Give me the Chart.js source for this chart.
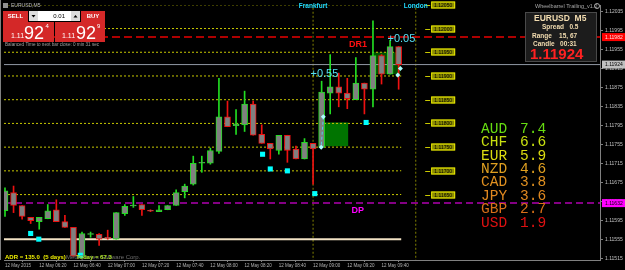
<!DOCTYPE html>
<html>
<head>
<meta charset="utf-8">
<script src="https://cdn.jsdelivr.net/npm/chart.js@4.4.0/dist/chart.umd.min.js"></script>
<style>
html, body { margin: 0; padding: 0; background: #000; }
canvas { display: block; }
</style>
</head>
<body>
<canvas id="chart" width="625" height="270"></canvas>
<script>
// EURUSD M5, 12 May 2015 06:00 .. 09:50 (one entry per candle)
const opens = [1.11616, 1.11654, 1.11627, 1.11602, 1.11593, 1.11599, 1.11618, 1.11593, 1.11581, 1.11520,
    1.11566, 1.11566, 1.11560, 1.11556, 1.11610, 1.11626, 1.11629, 1.11617, 1.11614, 1.11618,
    1.11627, 1.11656, 1.11672, 1.11716, 1.11716, 1.11741, 1.11814, 1.11795, 1.11797, 1.11841,
    1.11777, 1.11758, 1.11743, 1.11775, 1.11746, 1.11725, 1.11758, 1.11750, 1.11864, 1.11877,
    1.11864, 1.11850, 1.11885, 1.11872, 1.11943, 1.11904, 1.11962];
const highs = [1.11664, 1.11668, 1.11627, 1.11602, 1.11602, 1.11629, 1.11639, 1.11606, 1.11581, 1.11571,
    1.11571, 1.11568, 1.11575, 1.11612, 1.11629, 1.11646, 1.11629, 1.11618, 1.11627, 1.11627,
    1.11660, 1.11672, 1.11731, 1.11731, 1.11748, 1.11895, 1.11847, 1.11829, 1.11868, 1.11847,
    1.11797, 1.11758, 1.11775, 1.11775, 1.11752, 1.11768, 1.11758, 1.11889, 1.11945, 1.11906,
    1.11895, 1.11939, 1.11885, 1.12016, 1.11945, 1.11975, 1.11962];
const lows = [1.11604, 1.11612, 1.11598, 1.11589, 1.11577, 1.11599, 1.11593, 1.11581, 1.11520, 1.11516,
    1.11560, 1.11543, 1.11556, 1.11556, 1.11606, 1.11623, 1.11606, 1.11614, 1.11614, 1.11618,
    1.11627, 1.11643, 1.11670, 1.11697, 1.11714, 1.11737, 1.11793, 1.11777, 1.11783, 1.11775,
    1.11758, 1.11725, 1.11735, 1.11718, 1.11725, 1.11725, 1.11672, 1.11750, 1.11820, 1.11835,
    1.11831, 1.11850, 1.11820, 1.11835, 1.11883, 1.11904, 1.11872];
const closes = [1.11658, 1.11627, 1.11604, 1.11595, 1.11602, 1.11616, 1.11593, 1.11581, 1.11520, 1.11568,
    1.11568, 1.11556, 1.11558, 1.11612, 1.11625, 1.11628, 1.11618, 1.11615, 1.11618, 1.11627,
    1.11654, 1.11668, 1.11716, 1.11718, 1.11743, 1.11814, 1.11793, 1.11799, 1.11841, 1.11775,
    1.11758, 1.11746, 1.11775, 1.11743, 1.11725, 1.11760, 1.11746, 1.11866, 1.11877, 1.11864,
    1.11852, 1.11885, 1.11872, 1.11943, 1.11904, 1.11962, 1.11924];

// bottom axis (candle index of each label)
const timeTicks = [0, 4, 8, 12, 16, 20, 24, 28, 32, 36, 40, 44];
const timeLabels = ['12 May 2015', '12 May 06:20', '12 May 06:40', '12 May 07:00', '12 May 07:20', '12 May 07:40',
    '12 May 08:00', '12 May 08:20', '12 May 08:40', '12 May 09:00', '12 May 09:20', '12 May 09:40'];
// right axis
const priceTicks = [1.11515, 1.11555, 1.11595, 1.11635, 1.11675, 1.11715, 1.11755, 1.11795,
    1.11835, 1.11875, 1.11915, 1.11955, 1.11995, 1.12035];

// round-number levels (yellow dotted) and key lines
const levels = [1.12050, 1.12000, 1.11950, 1.11900, 1.11850, 1.11800, 1.11750, 1.11700, 1.11650];
const dr1 = 1.11982;
const bid = 1.11924;
const dp = 1.11632;
const adrLine = 1.11556;
const frankfurtIdx = 36;
const londonIdx = 48;

// fractal markers
const fractalIdx = [3, 3.95, 8.8, 30.1, 31, 33, 36.2, 42.2];
const fractalPrice = [1.11568, 1.11556, 1.11522, 1.11735, 1.11704, 1.11700, 1.11652, 1.11802];

// trade marks
const tradeIdx = [37.2, 36.95, 45.9, 46.2];
const tradePrice = [1.11814, 1.11750, 1.11902, 1.11916];

// boxes [fromIdx, toIdx, low, high]
const zones = [[37.3, 40.1, 1.11752, 1.11802], [43.1, 46.2, 1.11904, 1.11950]];

// currency strength
const currencies = ['AUD', 'CHF', 'EUR', 'NZD', 'CAD', 'JPY', 'GBP', 'USD'];
const strength = [7.4, 6.6, 5.9, 4.6, 3.8, 3.6, 2.7, 1.9];

const UP = '#22dd22';
const DOWN = '#ee1111';
const isUp = i => closes[i] >= opens[i];

const X_MIN = -0.116, X_MAX = 69.53;

function hLine(price, from, to, color, dash, width) {
    return {
        type: 'line',
        data: [{ x: from, y: price }, { x: to, y: price }],
        borderColor: color,
        borderDash: dash,
        borderWidth: width,
        pointRadius: 0,
        order: 5
    };
}

function vLine(idx, color) {
    return {
        type: 'line',
        data: [{ x: idx, y: 1.1150 }, { x: idx, y: 1.1206 }],
        borderColor: color,
        borderDash: [2, 2],
        borderWidth: 1,
        pointRadius: 0,
        order: 6
    };
}

const strengthColors = ['#66dd11', '#c8e010', '#dcdc10', '#e0a020', '#e09020', '#e08820', '#d87018', '#dd1111'];

const overlay = {
    id: 'overlay',
    beforeDraw(chart) {
        const c = chart.ctx;
        c.save();
        c.fillStyle = '#000';
        c.fillRect(0, 0, chart.width, chart.height);
        c.restore();
    },
    beforeDatasetsDraw(chart) {
        const c = chart.ctx, xs = chart.scales.x, ys = chart.scales.y;
        c.save();
        zones.forEach((z, k) => {
            const x0 = xs.getPixelForValue(z[0]), x1 = xs.getPixelForValue(z[1]);
            const y0 = ys.getPixelForValue(z[3]), y1 = ys.getPixelForValue(z[2]);
            c.fillStyle = k === 0 ? '#007400' : '#005200';
            c.fillRect(x0, y0, x1 - x0, y1 - y0);
        });
        c.restore();
    },
    afterDraw(chart) {
        const c = chart.ctx, xs = chart.scales.x, ys = chart.scales.y;
        const area = chart.chartArea;
        c.save();

        // chart frame
        c.strokeStyle = '#808080';
        c.lineWidth = 1;
        c.beginPath();
        c.moveTo(0.5, 0); c.lineTo(0.5, area.bottom);
        c.stroke();

        // level labels
        const lx = xs.getPixelForValue(49.8);
        c.font = '5px "Liberation Sans"';
        c.textBaseline = 'middle';
        c.textAlign = 'center';
        levels.forEach(l => {
            const y = Math.round(ys.getPixelForValue(l));
            c.fillStyle = '#c8c800';
            c.fillRect(lx - 6, y, 5, 1);
            c.fillStyle = '#8c8c00';
            c.fillRect(lx, y - 3.5, 24, 7);
            c.strokeStyle = '#e8e800';
            c.strokeRect(lx + 0.5, y - 3, 23, 6);
            c.fillStyle = '#000';
            c.fillText(l.toFixed(5), lx + 12, y + 0.5);
        });

        // axis price tags
        const tag = (price, bg, fg) => {
            const y = ys.getPixelForValue(price);
            c.fillStyle = bg;
            c.fillRect(area.right + 2, y - 4, 25, 8);
            c.fillStyle = fg;
            c.font = '5px "Liberation Sans"';
            c.textAlign = 'left';
            c.fillText(price.toFixed(5), area.right + 5, y + 0.5);
        };
        tag(dr1, '#ff0000', '#ffe0e0');
        tag(bid, '#c0c0c0', '#000');
        tag(dp, '#ff00ff', '#000');

        // session labels
        c.font = 'bold 6.5px "Liberation Sans"';
        c.fillStyle = '#22ddff';
        c.textAlign = 'center';
        c.fillText('Frankfurt', xs.getPixelForValue(frankfurtIdx), 6);
        c.fillText('London', xs.getPixelForValue(londonIdx), 6);

        // pivot labels
        c.font = 'bold 9px "Liberation Sans"';
        c.textAlign = 'left';
        c.fillStyle = '#ff1010';
        c.fillText('DR1', xs.getPixelForValue(40.2), ys.getPixelForValue(dr1) + 7);
        c.fillStyle = '#ff00ff';
        c.fillText('DP', xs.getPixelForValue(40.5), ys.getPixelForValue(dp) + 7);

        // trade profits
        c.font = '11px "Liberation Sans"';
        c.fillStyle = '#55e0f5';
        c.fillText('+0.55', xs.getPixelForValue(35.7), ys.getPixelForValue(1.11904));
        c.fillText('+0.05', xs.getPixelForValue(44.7), ys.getPixelForValue(1.11977));

        // currency strength table
        c.font = '14.5px "Liberation Mono"';
        currencies.forEach((cur, k) => {
            const y = 129 + k * 13.4;
            c.fillStyle = strengthColors[k];
            c.fillText(cur, 481, y);
            c.fillText(strength[k].toFixed(1), 520, y);
        });

        // info box
        c.fillStyle = '#1c1c1c';
        c.fillRect(525, 12, 72, 50);
        c.strokeStyle = '#4a4a4a';
        c.strokeRect(525.5, 12.5, 71, 49);
        c.fillStyle = '#f2dcb0';
        c.textAlign = 'left';
        c.font = 'bold 8.5px "Liberation Sans"';
        c.fillText('EURUSD  M5', 534, 19);
        c.font = 'bold 6.5px "Liberation Sans"';
        c.fillText('Spread   0.5', 542, 27.5);
        c.fillText('Range    15, 67', 532, 36);
        c.fillText('Candle   00:31', 533, 44);
        c.font = 'bold 15px "Liberation Sans"';
        c.fillStyle = '#ff2222';
        c.fillText('1.11924', 530, 55);
        c.font = '5.5px "Liberation Sans"';
        c.fillStyle = '#a8a8a8';
        c.fillText('Wheelbarrel Trailing_v1.2', 535, 6);
        c.strokeStyle = '#a8a8a8';
        c.beginPath();
        c.arc(597, 6, 2.5, 0, Math.PI * 2);
        c.stroke();

        // trading panel
        c.font = '5px "Liberation Sans"';
        c.fillStyle = '#b8b8b8';
        c.fillText('EURUSD,M5', 11, 5.5);
        c.fillStyle = '#909090';
        c.fillRect(3, 3, 5, 5);
        const red = '#d42828';
        c.fillStyle = red;
        c.fillRect(3, 11, 25, 11);
        c.fillRect(81, 11, 24, 11);
        c.fillRect(3, 22, 51, 20);
        c.fillRect(55, 22, 50, 20);
        c.fillStyle = '#ffffff';
        c.fillRect(29, 11, 51, 10);
        c.fillStyle = '#dcdcdc';
        c.fillRect(29, 11, 9, 10);
        c.fillRect(71, 11, 9, 10);
        c.fillStyle = '#000';
        c.beginPath(); c.moveTo(31.5, 15); c.lineTo(35.5, 15); c.lineTo(33.5, 17.5); c.fill();
        c.beginPath(); c.moveTo(73.5, 17.5); c.lineTo(77.5, 17.5); c.lineTo(75.5, 15); c.fill();
        c.textAlign = 'right';
        c.font = '6px "Liberation Sans"';
        c.fillText('0.01', 65, 16.5);
        c.textAlign = 'center';
        c.fillStyle = '#fff';
        c.font = 'bold 6px "Liberation Sans"';
        c.fillText('SELL', 15.5, 16.5);
        c.fillText('BUY', 93, 16.5);
        c.textAlign = 'left';
        c.textBaseline = 'alphabetic';
        c.font = '7px "Liberation Sans"';
        c.fillText('1.11', 11, 38);
        c.fillText('1.11', 62, 38);
        c.font = '18px "Liberation Sans"';
        c.fillText('92', 24, 39);
        c.fillText('92', 76, 39);
        c.font = '6px "Liberation Sans"';
        c.fillText('4', 45.5, 28);
        c.fillText('9', 97, 28);
        c.textBaseline = 'middle';
        c.font = '4.6px "Liberation Sans"';
        c.fillStyle = '#a0a0a0';
        c.fillText('Balanced Time to next bar close: 0 min 31 sec', 5, 44.5);

        // ADR text
        c.font = '6px "Liberation Sans"';
        c.fillStyle = '#707070';
        c.fillText('MetaQuotes Software Corp.', 66, 257);
        c.font = 'bold 6px "Liberation Sans"';
        c.fillStyle = '#f0f000';
        c.fillText('ADR = 135.0  (5 days)', 5, 257);
        c.fillStyle = '#a8e020';
        c.fillText('Today = 67.3', 76, 257);

        c.restore();
    }
};

const wickData = opens.map((o, i) => ({ x: i, y: [lows[i], highs[i]] }));
const bodyData = opens.map((o, i) => ({ x: i, y: [o, closes[i]] }));

const datasets = [
    {
        type: 'bar',
        data: bodyData,
        barThickness: 6,
        grouped: false,
        backgroundColor: '#808080',
        borderColor: ctx => isUp(ctx.dataIndex) ? UP : DOWN,
        borderWidth: 1,
        borderSkipped: false,
        order: 1
    },
    {
        type: 'bar',
        data: wickData,
        barThickness: 1,
        grouped: false,
        backgroundColor: ctx => isUp(ctx.dataIndex) ? UP : DOWN,
        borderWidth: 0,
        order: 2
    },
    {
        type: 'scatter',
        data: fractalIdx.map((x, k) => ({ x: x, y: fractalPrice[k] })),
        pointStyle: 'rect',
        pointRadius: 3.6,
        backgroundColor: '#00ffff',
        borderWidth: 0,
        order: 0
    },
    {
        type: 'line',
        data: tradeIdx.slice(0, 2).map((x, k) => ({ x: x, y: tradePrice[k] })),
        borderColor: '#55ccee',
        borderDash: [3, 2],
        borderWidth: 1,
        pointStyle: 'rectRot',
        pointRadius: 2.5,
        pointBackgroundColor: '#aaffff',
        pointBorderWidth: 0,
        order: 0
    },
    {
        type: 'scatter',
        data: tradeIdx.slice(2).map((x, k) => ({ x: x, y: tradePrice[k + 2] })),
        pointStyle: 'rectRot',
        pointRadius: 2.5,
        backgroundColor: '#aaffff',
        borderWidth: 0,
        order: 0
    },
    ...levels.map(l => hLine(l, X_MIN, 46.3, '#c8c800', [2, 2], 1)),
    hLine(dr1, X_MIN, X_MAX, '#e80000', [8, 4], 1.5),
    hLine(bid, X_MIN, X_MAX, '#9098a4', [], 1),
    hLine(dp, X_MIN, X_MAX, '#b000b0', [7, 4], 1.5),
    hLine(adrLine, X_MIN, 46.3, '#f2e2c4', [], 2),
    vLine(frankfurtIdx, '#808000'),
    vLine(londonIdx, '#808000')
];

new Chart(document.getElementById('chart'), {
    type: 'bar',
    data: { datasets: datasets },
    options: {
        responsive: false,
        animation: false,
        devicePixelRatio: 1,
        layout: { padding: { left: 1, top: 2, right: 0, bottom: 0 } },
        plugins: {
            legend: { display: false },
            tooltip: { enabled: false }
        },
        scales: {
            x: {
                type: 'linear',
                min: X_MIN,
                max: X_MAX,
                offset: false,
                afterBuildTicks: scale => {
                    scale.ticks = timeTicks.map(v => ({ value: v }));
                },
                afterFit: scale => { scale.height = 10; },
                grid: { drawOnChartArea: false, tickLength: 2, color: '#808080' },
                border: { display: true, color: '#808080' },
                ticks: {
                    color: '#b4b4b4',
                    align: 'start',
                    padding: 1,
                    maxRotation: 0,
                    autoSkip: false,
                    font: { family: 'Liberation Sans', size: 4.5 },
                    callback: (value, index) => timeLabels[index]
                }
            },
            y: {
                position: 'right',
                min: 1.115121,
                max: 1.120496,
                afterBuildTicks: scale => {
                    scale.ticks = priceTicks.map(v => ({ value: v }));
                },
                afterFit: scale => { scale.width = 25; },
                grid: { drawOnChartArea: false, tickLength: 3, color: '#808080' },
                border: { display: true, color: '#808080' },
                ticks: {
                    color: '#c0c0c0',
                    padding: 2,
                    font: { family: 'Liberation Sans', size: 5 },
                    callback: value => value.toFixed(5)
                }
            }
        }
    },
    plugins: [overlay]
});
</script>
</body>
</html>
